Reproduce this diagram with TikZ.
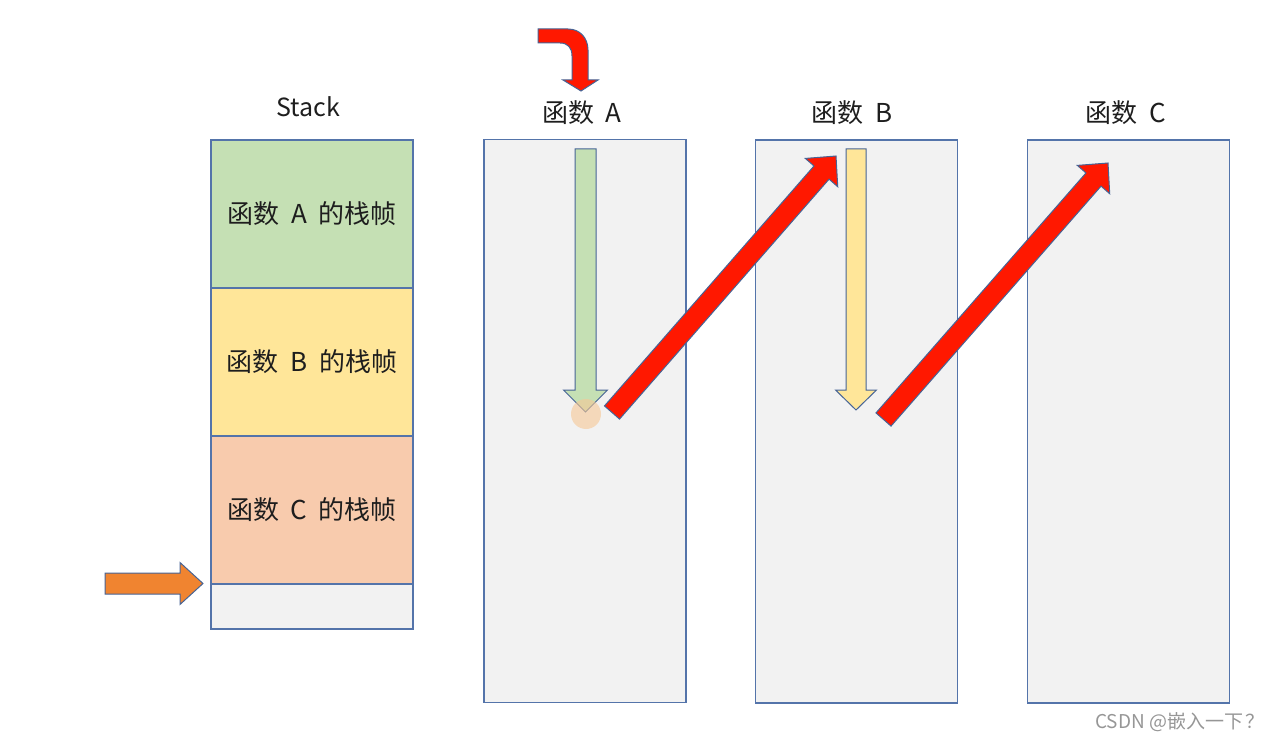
\documentclass[tikz,border=0pt]{standalone}
\usepackage{fontspec}
\setmainfont{Noto Sans CJK SC}
\usetikzlibrary{calc}
\definecolor{edgeblue}{RGB}{84,116,170}
\definecolor{arrowedge}{RGB}{70,100,150}
\definecolor{boxgray}{RGB}{242,242,242}
\definecolor{fgreen}{RGB}{197,224,180}
\definecolor{fyellow}{RGB}{255,230,153}
\definecolor{forange}{RGB}{248,203,173}
\definecolor{redarrow}{RGB}{255,24,0}
\definecolor{orangearrow}{RGB}{240,132,48}
\definecolor{txt}{RGB}{30,30,30}
\newcommand\wsp{\hspace{0.45em}}
\newcommand\fatarrow[6]{%
  \draw[#1] ($(#2)!#4!90:(#3)$) -- ($($(#3)!#6!(#2)$)!#4!-90:(#2)$)
    -- ($($(#3)!#6!(#2)$)!#5!-90:(#2)$) -- (#3)
    -- ($($(#3)!#6!(#2)$)!#5!90:(#2)$) -- ($($(#3)!#6!(#2)$)!#4!90:(#2)$)
    -- ($(#2)!#4!-90:(#3)$) -- cycle;}
\tikzset{
  cell/.style={draw=edgeblue, line width=1.3pt, minimum width=202pt, inner sep=0pt, text=txt, font=\fontsize{26}{30}\selectfont},
  fbox/.style={draw=edgeblue, line width=1.3pt, fill=boxgray, minimum width=202pt, minimum height=563pt, inner sep=0pt},
  lbl/.style={text=txt, font=\fontsize{26}{30}\selectfont, inner sep=0pt},
  arr/.style={draw=arrowedge, line width=1pt, line join=miter},
}
\begin{document}
\begin{tikzpicture}[x=1pt,y=-1pt]
\useasboundingbox (0,0) rectangle (1276,743);
% stack
\node[lbl, font=\fontsize{25}{30}\selectfont] (stacklbl) at (308,107) {Stack};
\node[cell, fill=fgreen, minimum height=148pt] (sa) at (312,214) {函数\wsp A\wsp 的栈帧};
\node[cell, fill=fyellow, minimum height=148pt] (sb) at (312,362) {函数\wsp B\wsp 的栈帧};
\node[cell, fill=forange, minimum height=148pt] (sc) at (312,510) {函数\wsp C\wsp 的栈帧};
\node[cell, fill=boxgray, minimum height=45pt] (sd) at (312,606.5) {};
% function boxes
\node[fbox] (fa) at (585,421) {};
\node[fbox] (fb) at (856.5,421.5) {};
\node[fbox] (fc) at (1128.5,421.5) {};
\node[lbl] (la) at (582,113) {函数\wsp A};
\node[lbl] (lb) at (852,113) {函数\wsp B};
\node[lbl] (lc) at (1126,113) {函数\wsp C};
% coordinates
\coordinate (ga) at (585.5,149); \coordinate (gb) at (585.5,412);
\coordinate (ya) at (856,149); \coordinate (yb) at (856,410);
\coordinate (oa) at (105,583.5); \coordinate (ob) at (203,583.5);
\coordinate (r1a) at (612,412.5); \coordinate (r1b) at (836,156);
\coordinate (r2a) at (883.5,419.5); \coordinate (r2b) at (1108,163);
% arrows
\fatarrow{arr, fill=fgreen}{ga}{gb}{10.5pt}{22pt}{22pt}
\fatarrow{arr, fill=fyellow}{ya}{yb}{10pt}{20.5pt}{20pt}
\fatarrow{arr, fill=orangearrow}{oa}{ob}{10.5pt}{21pt}{23pt}
\node[circle, fill={rgb,255:red,246;green,200;blue,150}, fill opacity=0.6, minimum size=30pt, inner sep=0pt] (dot) at (586,414) {};
\fatarrow{arr, fill=redarrow}{r1a}{r1b}{10pt}{21.5pt}{22pt}
\fatarrow{arr, fill=redarrow}{r2a}{r2b}{10pt}{21.5pt}{22pt}
% bent arrow
\draw[arr, fill=redarrow] (538,29) -- (568,29) .. controls (580,29) and (588,38) .. (588,50)
  -- (588,80) -- (598,80) -- (581,91) -- (563,80) -- (572,80) -- (572,56)
  .. controls (572,48) and (568,43) .. (560,43) -- (538,43) -- cycle;
% watermark
\node[text={rgb,255:red,150;green,150;blue,150}, font=\fontsize{19}{22}\selectfont, inner sep=0pt] (wm) at (1180,722) {CSDN @嵌入一下\hspace{0.15em}？};
\end{tikzpicture}
\end{document}
